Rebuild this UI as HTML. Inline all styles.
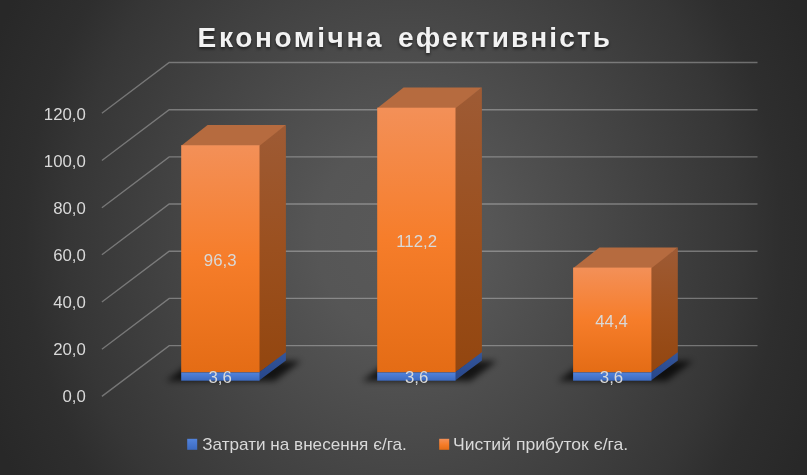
<!DOCTYPE html><html><head><meta charset="utf-8"><title>Chart</title><style>
html,body{margin:0;padding:0;background:#262626;}body{width:807px;height:475px;overflow:hidden;}svg{display:block;font-family:"Liberation Sans",sans-serif;}
</style></head><body>
<svg width="807" height="475" viewBox="0 0 807 475">
<defs>
<radialGradient id="bg" cx="0" cy="0" r="1" gradientUnits="userSpaceOnUse" gradientTransform="translate(403.5 237.5) scale(445 495)"><stop offset="0" stop-color="#595959"/><stop offset="0.196" stop-color="#565656"/><stop offset="0.75" stop-color="#363636"/><stop offset="0.85" stop-color="#2e2e2e"/><stop offset="1" stop-color="#282828"/></radialGradient>
<linearGradient id="of" x1="0" y1="0" x2="0" y2="1"><stop offset="0" stop-color="#f39058"/><stop offset="0.5" stop-color="#f67d2a"/><stop offset="1" stop-color="#e46c15"/></linearGradient>
<linearGradient id="os" x1="0" y1="0" x2="0" y2="1"><stop offset="0" stop-color="#9e5b35"/><stop offset="0.5" stop-color="#9b501f"/><stop offset="1" stop-color="#93460f"/></linearGradient>
<linearGradient id="bf" x1="0" y1="0" x2="0" y2="1"><stop offset="0" stop-color="#5283dc"/><stop offset="1" stop-color="#3c6ac0"/></linearGradient>
<linearGradient id="bs" x1="0" y1="0" x2="0" y2="1"><stop offset="0" stop-color="#34569a"/><stop offset="1" stop-color="#27468a"/></linearGradient>
<filter id="sh" x="-30%" y="-80%" width="160%" height="260%"><feGaussianBlur stdDeviation="3.3"/></filter>
<filter id="ts" x="-10%" y="-40%" width="120%" height="200%"><feGaussianBlur stdDeviation="1.6"/></filter>
</defs>
<rect width="807" height="475" fill="url(#bg)"/>
<g fill="none" stroke="#f2f2f2" stroke-opacity="0.33" stroke-width="1.4" stroke-linejoin="miter">
<polyline points="101.9,113.3 169.2,62.5 757.5,62.5"/>
<polyline points="101.9,160.5 169.2,109.7 757.5,109.7"/>
<polyline points="101.9,207.7 169.2,156.9 757.5,156.9"/>
<polyline points="101.9,254.8 169.2,204.0 757.5,204.0"/>
<polyline points="101.9,302.0 169.2,251.2 757.5,251.2"/>
<polyline points="101.9,349.2 169.2,298.4 757.5,298.4"/>
<polyline points="101.9,396.4 169.2,345.6 757.5,345.6"/>
</g>
<polygon points="166.2,381.1 274.5,381.1 300.9,361.0 192.6,361.0" fill="#000" opacity="0.74" filter="url(#sh)"/>
<polygon points="362.2,381.1 470.5,381.1 496.9,361.0 388.6,361.0" fill="#000" opacity="0.74" filter="url(#sh)"/>
<polygon points="558.1,381.1 666.4,381.1 692.8,361.0 584.5,361.0" fill="#000" opacity="0.74" filter="url(#sh)"/>
<polygon points="258.8,144.7 285.9,125.1 285.9,352.7 258.8,372.8" fill="url(#os)"/>
<polygon points="258.8,372.4 285.9,352.3 285.9,360.6 258.8,380.7" fill="url(#bs)"/>
<polygon points="181.2,145.8 207.6,125.1 285.9,125.1 259.5,145.8" fill="#b66b3f"/>
<rect x="181.2" y="145.2" width="78.3" height="227.2" fill="url(#of)"/>
<rect x="181.2" y="372.4" width="78.3" height="8.3" fill="url(#bf)"/>
<polygon points="454.8,107.2 481.9,87.6 481.9,352.7 454.8,372.8" fill="url(#os)"/>
<polygon points="454.8,372.4 481.9,352.3 481.9,360.6 454.8,380.7" fill="url(#bs)"/>
<polygon points="377.2,108.3 403.6,87.6 481.9,87.6 455.5,108.3" fill="#b66b3f"/>
<rect x="377.2" y="107.7" width="78.3" height="264.7" fill="url(#of)"/>
<rect x="377.2" y="372.4" width="78.3" height="8.3" fill="url(#bf)"/>
<polygon points="650.7,267.1 677.8,247.5 677.8,352.7 650.7,372.8" fill="url(#os)"/>
<polygon points="650.7,372.4 677.8,352.3 677.8,360.6 650.7,380.7" fill="url(#bs)"/>
<polygon points="573.1,268.2 599.5,247.5 677.8,247.5 651.4,268.2" fill="#b66b3f"/>
<rect x="573.1" y="267.6" width="78.3" height="104.8" fill="url(#of)"/>
<rect x="573.1" y="372.4" width="78.3" height="8.3" fill="url(#bf)"/>
<g fill="#d9d9d9" font-size="16.8" text-anchor="middle" opacity="0.999">
<text x="220.2" y="265.9">96,3</text>
<text x="220.2" y="382.8">3,6</text>
<text x="416.6" y="246.8">112,2</text>
<text x="416.6" y="382.8">3,6</text>
<text x="611.5" y="327.1">44,4</text>
<text x="611.5" y="382.8">3,6</text>
</g>
<g fill="#d9d9d9" font-size="16.8" text-anchor="end" opacity="0.999">
<text x="85.8" y="120.3">120,0</text>
<text x="85.8" y="167.2">100,0</text>
<text x="85.8" y="214.2">80,0</text>
<text x="85.8" y="261.2">60,0</text>
<text x="85.8" y="308.1">40,0</text>
<text x="85.8" y="355.1">20,0</text>
<text x="85.8" y="402.0">0,0</text>
</g>
<g font-size="28" font-weight="bold" fill="#000" opacity="0.55" filter="url(#ts)">
<text x="197.6" y="49.4" textLength="184" lengthAdjust="spacing">Економічна</text>
<text x="398.0" y="49.4" textLength="212" lengthAdjust="spacing">ефективність</text>
</g>
<g font-size="28" font-weight="bold" fill="#f2f2f2" opacity="0.999">
<text x="197.6" y="47.2" textLength="184" lengthAdjust="spacing">Економічна</text>
<text x="398.0" y="47.2" textLength="212" lengthAdjust="spacing">ефективність</text>
</g>
<rect x="187.2" y="438.8" width="10" height="11" fill="url(#bf)"/>
<rect x="439.2" y="438.8" width="10" height="11" fill="url(#of)"/>
<g fill="#d9d9d9" font-size="16.4" opacity="0.999">
<text x="202.2" y="449.5" textLength="204.6" lengthAdjust="spacingAndGlyphs">Затрати на внесення є/га.</text>
<text x="453.0" y="449.5" textLength="175.2" lengthAdjust="spacingAndGlyphs">Чистий прибуток є/га.</text>
</g>
</svg></body></html>
